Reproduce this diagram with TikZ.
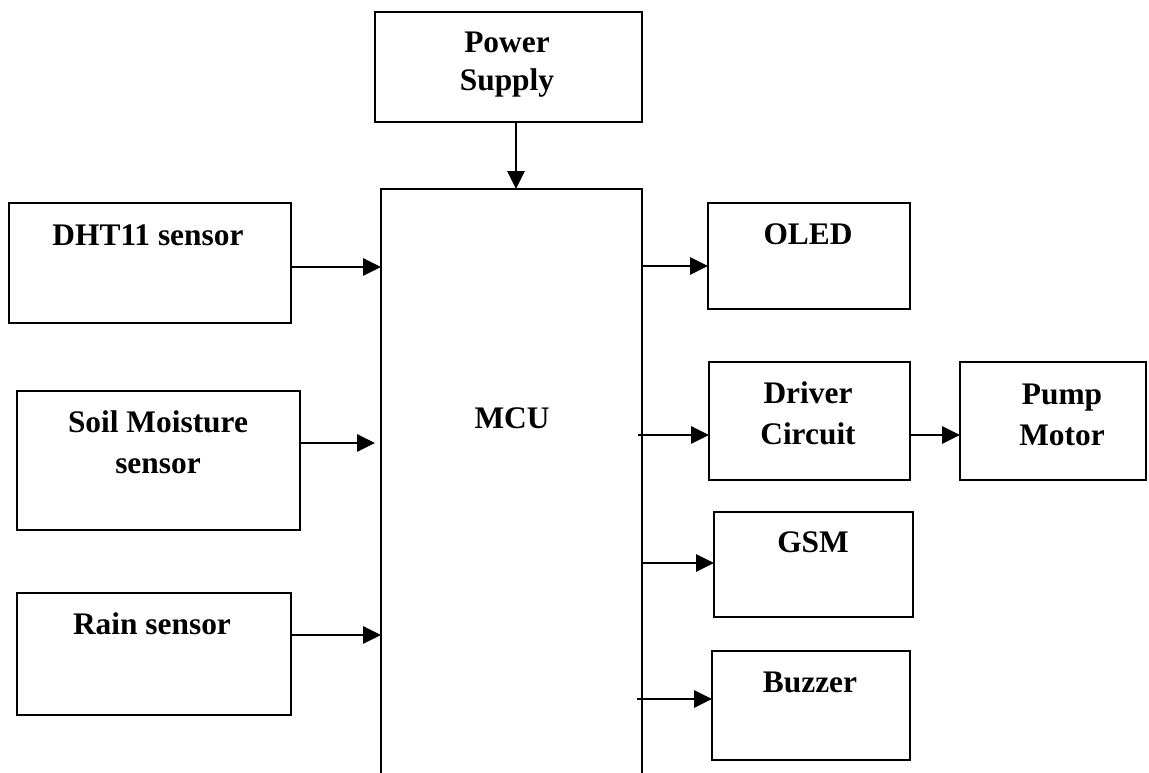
\documentclass[tikz,border=0pt]{standalone}
\usepackage{fontspec}
\setmainfont{Liberation Serif}
\usetikzlibrary{arrows.meta}

\tikzset{
  blk/.style={draw=black, line width=1pt, inner sep=0pt, outer sep=0pt},
  lbl/.style={inner sep=0pt, anchor=base, align=center,
              font=\fontsize{15.7pt}{20.5pt}\selectfont\bfseries},
  arr/.style={line width=1.4pt, -{Triangle[length=9pt,width=8.5pt]}}
}

\begin{document}
\begin{tikzpicture}[x=0.5pt, y=-0.5pt]
  \useasboundingbox (0,0) rectangle (1149,772);
  \clip (0,0) rectangle (1149,772);
  \fill[white] (0,0) rectangle (1149,772);

  % blocks
  \node[blk, minimum width=133.5pt, minimum height=55pt]   (pow)  at (508.5,67)   {};
  \node[blk, minimum width=130.5pt, minimum height=320pt]  (mcu)  at (511.5,509)  {};
  \node[blk, minimum width=141pt,   minimum height=60pt]   (dht)  at (150,263)    {};
  \node[blk, minimum width=141.5pt, minimum height=69.5pt] (soil) at (158.5,460.5){};
  \node[blk, minimum width=137pt,   minimum height=61pt]   (rain) at (154,654)    {};
  \node[blk, minimum width=101pt,   minimum height=53pt]   (oled) at (809,256)    {};
  \node[blk, minimum width=100.5pt, minimum height=59pt]   (drv)  at (809.5,421)  {};
  \node[blk, minimum width=93pt,    minimum height=59pt]   (pump) at (1053,421)   {};
  \node[blk, minimum width=99.5pt,  minimum height=52.5pt] (gsm)  at (813.5,564.5){};
  \node[blk, minimum width=99pt,    minimum height=54.5pt] (buz)  at (811,705.5)  {};

  % labels (base anchor sits on the last line's baseline)
  \node[lbl, font=\fontsize{15.7pt}{19pt}\selectfont\bfseries] (tpow) at (507,90) {Power\\Supply};
  \node[lbl] (tmcu)  at (512,428)  {MCU};
  \node[lbl] (tdht)  at (148,245)  {DHT11 sensor};
  \node[lbl] (tsoil) at (158,473)  {Soil Moisture\\sensor};
  \node[lbl] (train) at (152,634)  {Rain sensor};
  \node[lbl] (toled) at (808,244)  {OLED};
  \node[lbl] (tdrv)  at (808,444)  {Driver\\Circuit};
  \node[lbl] (tpump) at (1062,445) {Pump\\Motor};
  \node[lbl] (tgsm)  at (813,552)  {GSM};
  \node[lbl] (tbuz)  at (810,692)  {Buzzer};

  % connector levels
  \coordinate (cpow) at (516,0);
  \coordinate (ydht) at (0,267);
  \coordinate (ysoil) at (0,443);
  \coordinate (yrain) at (0,635);
  \coordinate (yoled) at (0,266);
  \coordinate (ydrv) at (0,435);
  \coordinate (ygsm) at (0,563);
  \coordinate (ybuz) at (0,699);

  % connectors
  \draw[arr] (pow.south -| cpow) -- (mcu.north -| cpow);
  \draw[arr] (dht.east |- ydht) -- (mcu.west |- ydht);
  \draw[arr, shorten >=3pt] (soil.east |- ysoil) -- (mcu.west |- ysoil);
  \draw[arr] (rain.east |- yrain) -- (mcu.west |- yrain);
  \draw[arr] (mcu.east |- yoled) -- (oled.west |- yoled);
  \draw[arr, shorten <=-2pt] (mcu.east |- ydrv) -- (drv.west |- ydrv);
  \draw[arr] (drv.east |- ydrv) -- (pump.west |- ydrv);
  \draw[arr] (mcu.east |- ygsm) -- (gsm.west |- ygsm);
  \draw[arr, shorten <=-2.5pt] (mcu.east |- ybuz) -- (buz.west |- ybuz);
\end{tikzpicture}
\end{document}
